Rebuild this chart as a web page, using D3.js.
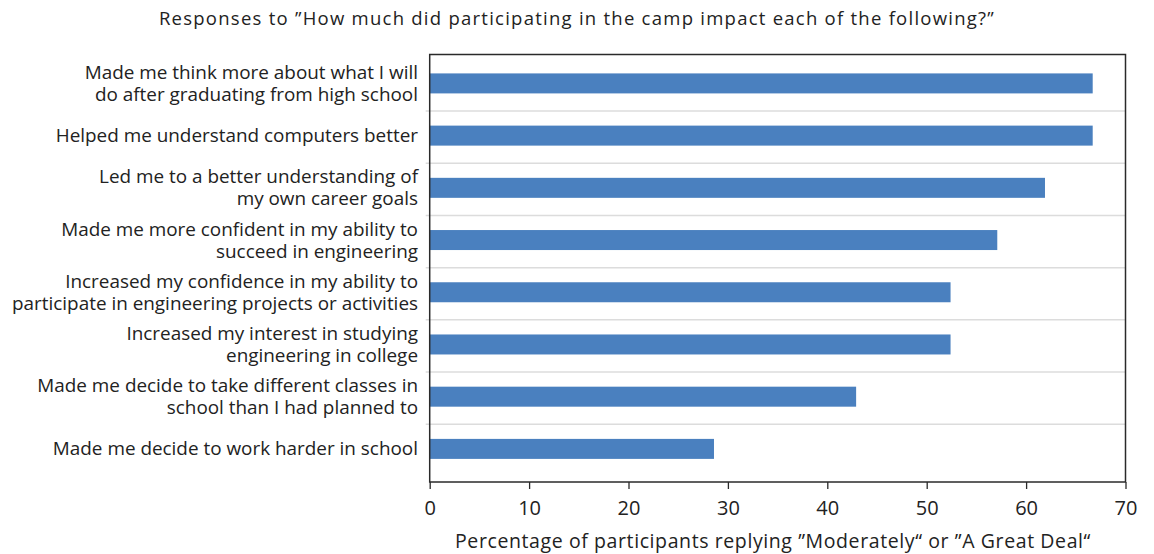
<!DOCTYPE html>
<html><head><meta charset="utf-8">
<script src="https://cdn.jsdelivr.net/npm/d3@7"></script>
<style>body{margin:0;background:#fff}text{font-family:"Open Sans",sans-serif;fill:#222}</style>
</head><body><svg id="c" width="1154" height="554"></svg>
<script>
const categories = [
  ["Made me think more about what I will", "do after graduating from high school"],
  ["Helped me understand computers better"],
  ["Led me to a better understanding of", "my own career goals"],
  ["Made me more confident in my ability to", "succeed in engineering"],
  ["Increased my confidence in my ability to", "participate in engineering projects or activities"],
  ["Increased my interest in studying", "engineering in college"],
  ["Made me decide to take different classes in", "school than I had planned to"],
  ["Made me decide to work harder in school"]
];
const values = [66.7, 66.7, 61.9, 57.1, 52.4, 52.4, 42.9, 28.6];
const xTicks = [0, 10, 20, 30, 40, 50, 60, 70];
const title = "Responses to \u201DHow much did participating in the camp impact each of the following?\u201D";
const xTitle = "Percentage of participants replying \u201DModerately\u201C or \u201DA Great Deal\u201C";

const svg = d3.select("#c");
const L = 429.7, R = 1125.5, T = 54.5, B = 482;
const x = d3.scaleLinear().domain([0, 70]).range([L, R]);
const y = d3.scaleBand().domain(d3.range(categories.length)).range([58.8, 476.5]);
const barH = 20;

// separators
svg.append("g").selectAll("line").data(d3.range(1, categories.length)).join("line")
  .attr("x1", L - 4).attr("x2", R).attr("y1", i => y(i)).attr("y2", i => y(i))
  .attr("stroke", "#dcdcdc").attr("stroke-width", 1.5);

// bars
svg.append("g").selectAll("rect").data(values).join("rect")
  .attr("x", x(0)).attr("width", d => x(d) - x(0))
  .attr("y", (d, i) => y(i) + y.bandwidth() / 2 - barH / 2 - 1.5).attr("height", barH)
  .attr("fill", "#4a80bf");

// frame
svg.append("rect").attr("x", L).attr("y", T).attr("width", R - L).attr("height", B - T)
  .attr("fill", "none").attr("stroke", "#2a2a2a").attr("stroke-width", 1.5);

// x axis
const ax = svg.append("g").attr("transform", `translate(0,${B})`)
  .call(d3.axisBottom(x).tickValues(xTicks).tickSize(7).tickPadding(12).tickFormat(d3.format("d")));
ax.select(".domain").remove();
ax.selectAll(".tick line").attr("stroke", "#2a2a2a").attr("stroke-width", 1.3);
ax.selectAll(".tick text").attr("font-size", 20).attr("font-family", "Open Sans").attr("fill", "#222");

// category labels
const lab = svg.append("g").selectAll("text").data(categories).join("text")
  .attr("text-anchor", "end").attr("font-size", 18.9)
  .attr("transform", (d, i) => `translate(418,${y(i) + y.bandwidth() / 2 - 1.5})`);
lab.selectAll("tspan").data(d => d.map((t, j) => ({t, j, n: d.length}))).join("tspan")
  .attr("x", 0).attr("y", d => (d.j - (d.n - 1) / 2) * 22 + 6.5)
  .text(d => d.t);

svg.append("text").attr("x", 577).attr("y", 25).attr("text-anchor", "middle")
  .attr("font-size", 18.5).attr("letter-spacing", 1.25).text(title);
svg.append("text").attr("x", 773).attr("y", 548).attr("text-anchor", "middle")
  .attr("font-size", 19.5).attr("letter-spacing", 0.6).text(xTitle);
</script></body></html>
